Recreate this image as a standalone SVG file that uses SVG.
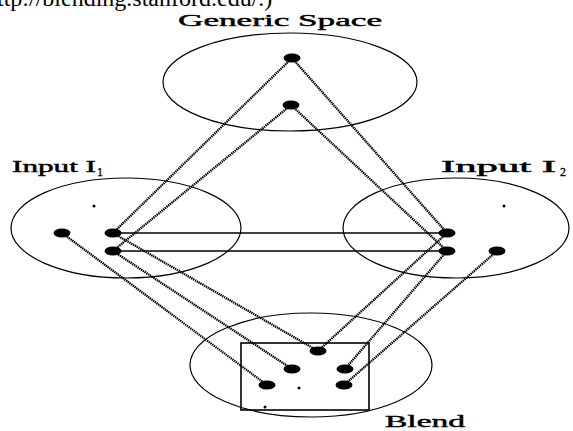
<svg xmlns="http://www.w3.org/2000/svg" width="573" height="431" viewBox="0 0 573 431">
<style>
.space{fill:none;stroke:#000;stroke-width:1.2}
.dot{fill:#000}
.lbl{font-family:"Liberation Serif",serif;font-size:17px;fill:#000;stroke:#000;stroke-width:0.45}
.sub{font-family:"Liberation Serif",serif;font-size:12px;fill:#000;stroke:#000;stroke-width:0.3}
.link{stroke:#000;stroke-width:2.3;stroke-dasharray:1.4 0.7;fill:none}
.hlink{stroke:#000;stroke-width:1.7;fill:none}
</style>
<rect width="573" height="431" fill="#fff"/>
<text x="-3" y="6" font-family="Liberation Serif, serif" font-size="24">ttp://blending.stanford.edu/.)</text>
<g id="generic">
<ellipse class="space" cx="290" cy="82" rx="127" ry="49"/>
<text class="lbl" x="178" y="26" textLength="204" lengthAdjust="spacingAndGlyphs">Generic Space</text>
<ellipse class="dot" cx="292" cy="58" rx="8.5" ry="4.5"/>
<ellipse class="dot" cx="291" cy="105" rx="8.5" ry="4.5"/>
</g>
<g id="input1">
<ellipse class="space" cx="126" cy="228" rx="115" ry="50"/>
<text class="lbl" x="12" y="172" textLength="84" lengthAdjust="spacingAndGlyphs">Input I</text>
<text class="sub" x="97" y="176">1</text>
<circle class="dot" cx="94" cy="206" r="1.5"/>
<ellipse class="dot" cx="62" cy="233" rx="8.5" ry="4.5"/>
<ellipse class="dot" cx="113" cy="233" rx="8.5" ry="4.5"/>
<ellipse class="dot" cx="113" cy="251" rx="8.5" ry="4.5"/>
</g>
<g id="input2">
<ellipse class="space" cx="456" cy="228" rx="113" ry="50"/>
<text class="lbl" x="441" y="172" textLength="115" lengthAdjust="spacingAndGlyphs">Input I</text>
<text class="sub" x="560" y="176">2</text>
<circle class="dot" cx="504" cy="206" r="1.5"/>
<ellipse class="dot" cx="447" cy="233" rx="8.5" ry="4.5"/>
<ellipse class="dot" cx="447" cy="251" rx="8.5" ry="4.5"/>
<ellipse class="dot" cx="497" cy="251" rx="8.5" ry="4.5"/>
</g>
<g id="blend">
<ellipse class="space" cx="311" cy="365" rx="121" ry="52"/>
<rect x="241" y="343" width="128" height="67" fill="none" stroke="#000" stroke-width="1.6"/>
<text class="lbl" x="385" y="427" textLength="80" lengthAdjust="spacingAndGlyphs">Blend</text>
<ellipse class="dot" cx="318" cy="351" rx="8.5" ry="4.5"/>
<ellipse class="dot" cx="292" cy="369" rx="8.5" ry="4.5"/>
<ellipse class="dot" cx="345" cy="369" rx="8.5" ry="4.5"/>
<ellipse class="dot" cx="267" cy="385" rx="8.5" ry="4.5"/>
<ellipse class="dot" cx="344" cy="385" rx="8.5" ry="4.5"/>
<circle class="dot" cx="299" cy="388" r="1.5"/>
<circle class="dot" cx="265" cy="407" r="1.5"/>
</g>
<g id="connectors">
<line class="link" x1="292" y1="58" x2="113" y2="233"/>
<line class="link" x1="292" y1="58" x2="447" y2="233"/>
<line class="link" x1="291" y1="105" x2="113" y2="251"/>
<line class="link" x1="291" y1="105" x2="447" y2="251"/>
<line class="hlink" x1="113" y1="233" x2="447" y2="233"/>
<line class="hlink" x1="113" y1="251" x2="447" y2="251"/>
<line class="link" x1="62" y1="233" x2="267" y2="385"/>
<line class="link" x1="113" y1="233" x2="318" y2="351"/>
<line class="link" x1="113" y1="251" x2="292" y2="369"/>
<line class="link" x1="447" y1="233" x2="318" y2="351"/>
<line class="link" x1="447" y1="251" x2="345" y2="369"/>
<line class="link" x1="497" y1="251" x2="344" y2="385"/>
</g>
</svg>
